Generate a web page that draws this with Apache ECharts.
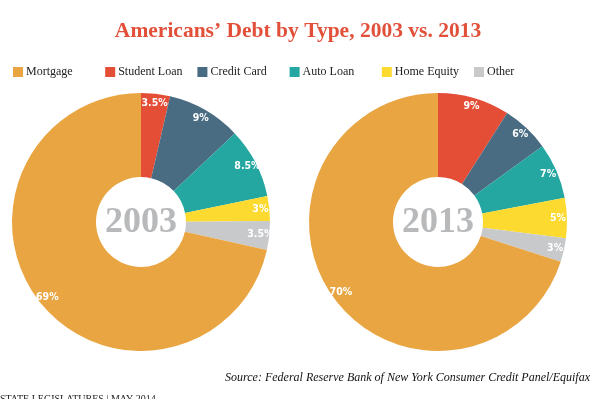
<!DOCTYPE html>
<html>
<head>
<meta charset="utf-8">
<script src="https://cdn.jsdelivr.net/npm/echarts@6/dist/echarts.min.js"></script>
<style>
  html, body { margin: 0; padding: 0; background: #fff; }
  #chart { width: 599px; height: 399px; }
</style>
</head>
<body>
<div id="chart"></div>
<script>
// slice order runs clockwise from 12 o'clock, mortgage last
const categories = ['Student Loan', 'Credit Card', 'Auto Loan', 'Home Equity', 'Other', 'Mortgage'];
const legendOrder = ['Mortgage', 'Student Loan', 'Credit Card', 'Auto Loan', 'Home Equity', 'Other'];
const values2003 = [3.5, 9, 8.5, 3, 3.5, 69];
const values2013 = [9, 6, 7, 5, 3, 70];
const years = ['2003', '2013'];

const colors = {
    'Mortgage': '#E9A541',
    'Student Loan': '#E54E36',
    'Credit Card': '#4A6C83',
    'Auto Loan': '#24A7A1',
    'Home Equity': '#FDDA30',
    'Other': '#C8C9CB'
};

const dom = document.getElementById('chart');
const myChart = echarts.init(dom);

function toData(vals) {
    return categories.map(function (name, i) {
        return { name: name, value: vals[i], itemStyle: { color: colors[name] } };
    });
}

// the ring with colours, and a thin transparent ring on the outer edge that carries the labels
function pieSeries(vals, cx, cy) {
    return [
        {
            type: 'pie',
            center: [cx, cy],
            radius: [45, 129],
            startAngle: 90,
            clockwise: true,
            data: toData(vals),
            label: { show: false },
            labelLine: { show: false },
            emphasis: { disabled: true },
            silent: true
        },
        {
            type: 'pie',
            center: [cx, cy],
            radius: [105, 129],
            startAngle: 90,
            clockwise: true,
            legendHoverLink: false,
            data: categories.map(function (name, i) {
                return { name: name + ' ', value: vals[i], itemStyle: { color: 'transparent' } };
            }),
            label: {
                show: true,
                position: 'inside',
                formatter: function (p) { return p.value + '%'; },
                color: '#fff',
                fontFamily: 'DejaVu Sans Condensed, Liberation Sans Narrow, sans-serif',
                fontWeight: 'bold',
                fontSize: 10.5
            },
            labelLine: { show: false },
            emphasis: { disabled: true },
            silent: true
        }
    ];
}

// one legend per item so the spacing is even, as in the print layout
const legends = legendOrder.map(function (name, i) {
    return {
        data: [name],
        left: 13 + i * 92.2,
        top: 66,
        padding: 0,
        itemWidth: 10,
        itemHeight: 10,
        icon: 'rect',
        selectedMode: false,
        textStyle: {
            fontFamily: 'Liberation Serif, serif',
            fontSize: 12,
            color: '#222',
            padding: [0, 0, 0, -2]
        }
    };
});

const option = {
    animation: false,
    legend: legends,
    series: pieSeries(values2003, 141, 222).concat(pieSeries(values2013, 438, 222)),
    graphic: [
        {
            type: 'text',
            x: 298, y: 31,
            style: {
                text: 'Americans\u2019 Debt by Type, 2003 vs. 2013',
                fill: '#E2503A',
                font: 'bold 21.5px "Liberation Serif", serif',
                textAlign: 'center',
                textVerticalAlign: 'middle'
            }
        },
        {
            type: 'text',
            x: 141, y: 223,
            style: {
                text: years[0],
                fill: '#B8B9BB',
                font: 'bold 36px "Liberation Serif", serif',
                textAlign: 'center',
                textVerticalAlign: 'middle'
            }
        },
        {
            type: 'text',
            x: 438, y: 223,
            style: {
                text: years[1],
                fill: '#B8B9BB',
                font: 'bold 36px "Liberation Serif", serif',
                textAlign: 'center',
                textVerticalAlign: 'middle'
            }
        },
        {
            type: 'text',
            x: 590, y: 378,
            style: {
                text: 'Source: Federal Reserve Bank of New York Consumer Credit Panel/Equifax',
                fill: '#111',
                font: 'italic 12px "Liberation Serif", serif',
                textAlign: 'right',
                textVerticalAlign: 'middle'
            }
        },
        {
            type: 'text',
            x: 0, y: 394,
            style: {
                text: 'STATE LEGISLATURES | MAY 2014',
                fill: '#222',
                font: '10px "Liberation Serif", serif',
                textAlign: 'left',
                textVerticalAlign: 'top'
            }
        }
    ]
};

myChart.setOption(option);
</script>
</body>
</html>
